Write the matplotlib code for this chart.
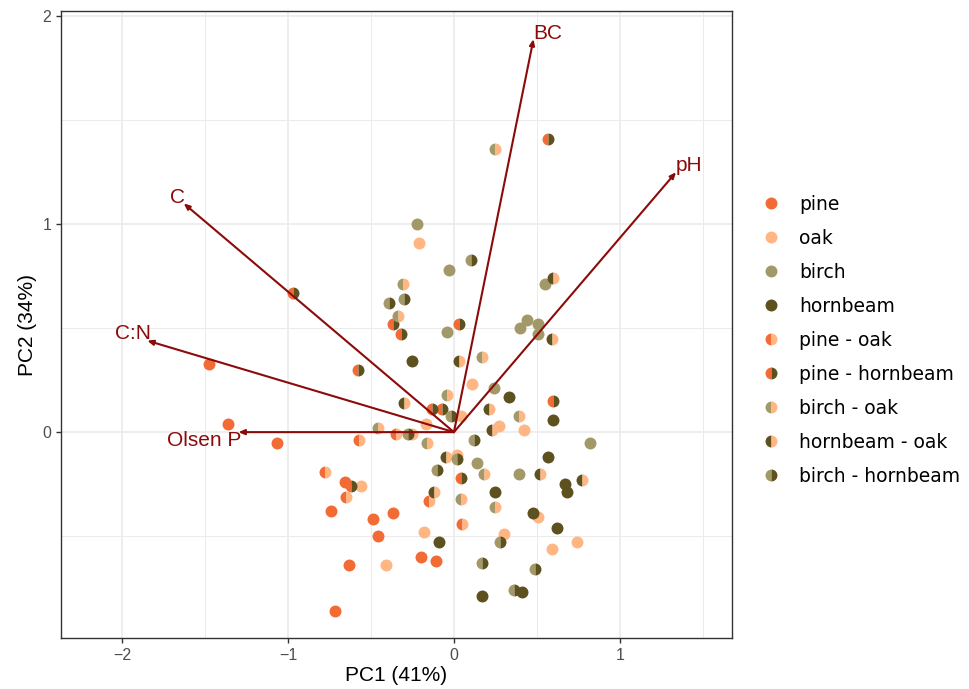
import matplotlib
matplotlib.use("Agg")
import matplotlib.pyplot as plt
from matplotlib.lines import Line2D

# species colours
pine_c = '#F26B35'
oak_c = '#FFB683'
birch_c = '#A39868'
hornbeam_c = '#5E5120'
arrow_c = '#8B0A0A'

# PCA scores per stand type (PC1, PC2)
pine_x = [-1.48, -1.36, -1.07, -0.66, -0.74, -0.49, -0.37, -0.46, -0.20, -0.11, -0.63, -0.72]
pine_y = [0.33, 0.04, -0.05, -0.24, -0.38, -0.42, -0.39, -0.50, -0.60, -0.62, -0.64, -0.86]

oak_x = [-0.21, 0.04, -0.17, -0.25, -0.56, -0.18, -0.41, 0.02, 0.11, 0.27, 0.42, 0.51, 0.30, 0.59, 0.74]
oak_y = [0.91, 0.08, 0.04, -0.01, -0.26, -0.48, -0.64, -0.11, 0.23, 0.03, 0.01, -0.41, -0.49, -0.56, -0.53]

birch_x = [-0.22, -0.03, 0.55, -0.04, 0.24, 0.82, 0.14, 0.39, 0.40, 0.44, 0.51, 0.51]
birch_y = [1.00, 0.78, 0.71, 0.48, 0.21, -0.05, -0.15, -0.20, 0.50, 0.54, 0.52, 0.47]

hornbeam_x = [-0.25, 0.33, 0.60, 0.57, 0.25, 0.67, 0.68, 0.48, 0.62, 0.41, 0.17, -0.09]
hornbeam_y = [0.34, 0.17, 0.06, -0.12, -0.29, -0.25, -0.29, -0.39, -0.46, -0.77, -0.79, -0.53]

pine_oak_x = [-0.35, -0.57, -0.65, -0.78, -0.15, 0.05]
pine_oak_y = [-0.01, -0.04, -0.31, -0.19, -0.33, -0.44]

pine_hornbeam_x = [0.57, -0.37, -0.32, 0.03, -0.58, -0.97, -0.13, -0.07, 0.60, 0.04, -0.62]
pine_hornbeam_y = [1.41, 0.52, 0.47, 0.52, 0.30, 0.67, 0.11, 0.11, 0.15, -0.22, -0.26]

birch_oak_x = [0.25, -0.31, -0.34, -0.04, -0.46, -0.16, 0.04, 0.17, 0.39, 0.18, 0.25]
birch_oak_y = [1.36, 0.71, 0.56, 0.18, 0.02, -0.05, -0.32, 0.36, 0.08, -0.20, -0.36]

hornbeam_oak_x = [0.60, 0.03, -0.30, -0.05, -0.12, 0.21, 0.23, 0.52, 0.77, 0.59]
hornbeam_oak_y = [0.74, 0.34, 0.14, -0.12, -0.29, 0.11, 0.01, -0.20, -0.23, 0.45]

birch_hornbeam_x = [0.10, -0.39, -0.30, -0.02, -0.28, 0.02, -0.10, 0.12, 0.28, 0.17, 0.49, 0.36]
birch_hornbeam_y = [0.83, 0.62, 0.64, 0.08, -0.01, -0.13, -0.18, -0.04, -0.53, -0.63, -0.66, -0.76]

# loadings
load_names = ['BC', 'pH', 'C', 'C:N', 'Olsen P']
load_x = [0.48, 1.34, -1.63, -1.85, -1.30]
load_y = [1.89, 1.25, 1.10, 0.44, 0.00]

groups = [
    ('pine', pine_x, pine_y, pine_c, pine_c),
    ('oak', oak_x, oak_y, oak_c, oak_c),
    ('birch', birch_x, birch_y, birch_c, birch_c),
    ('hornbeam', hornbeam_x, hornbeam_y, hornbeam_c, hornbeam_c),
    ('pine - oak', pine_oak_x, pine_oak_y, pine_c, oak_c),
    ('pine - hornbeam', pine_hornbeam_x, pine_hornbeam_y, pine_c, hornbeam_c),
    ('birch - oak', birch_oak_x, birch_oak_y, birch_c, oak_c),
    ('hornbeam - oak', hornbeam_oak_x, hornbeam_oak_y, hornbeam_c, oak_c),
    ('birch - hornbeam', birch_hornbeam_x, birch_hornbeam_y, birch_c, hornbeam_c),
]

fig = plt.figure(figsize=(9.69, 6.89), dpi=100)
ax = fig.add_axes([0.063, 0.074, 0.692, 0.910])

ax.set_xlim(-2.37, 1.675)
ax.set_ylim(-0.99, 2.025)
ax.set_xticks([-2, -1, 0, 1])
ax.set_yticks([0, 1, 2])
ax.set_xticks([-1.5, -0.5, 0.5, 1.5], minor=True)
ax.set_yticks([-0.5, 0.5, 1.5], minor=True)
ax.grid(which='major', color='#EBEBEB', lw=1.2)
ax.grid(which='minor', color='#EBEBEB', lw=0.7)
ax.set_axisbelow(True)
ax.tick_params(which='minor', length=0)
ax.tick_params(which='major', length=3.5, width=1, color='#333333',
               labelsize=11.5, labelcolor='#4D4D4D')
for lbl in ax.get_xticklabels() + ax.get_yticklabels():
    lbl.set_family('Liberation Sans')
for sp in ax.spines.values():
    sp.set_color('#333333')
    sp.set_linewidth(1.0)

handles = []
for name, xs, ys, c1, c2 in groups:
    fs = 'full' if c1 == c2 else 'left'
    ax.plot(xs, ys, ls='none', marker='o', ms=8.6, mew=0, fillstyle=fs,
            markerfacecolor=c1, markerfacecoloralt=c2, zorder=3)
    handles.append(Line2D([], [], ls='none', marker='o', ms=8.6, mew=0, fillstyle=fs,
                          markerfacecolor=c1, markerfacecoloralt=c2, label=name))

# arrows + labels
offsets = [(0, 4, 'left'), (0, 5, 'left'), (1, 4, 'right'), (3, 5, 'right'), (2, -6, 'right')]
for name, lx, ly, (dx, dy, ha) in zip(load_names, load_x, load_y, offsets):
    ax.annotate('', xy=(lx, ly), xytext=(0, 0),
                arrowprops=dict(arrowstyle='-|>,head_length=0.35,head_width=0.15',
                                color=arrow_c, lw=1.5, shrinkA=0, shrinkB=0),
                zorder=4)
    ax.annotate(name, xy=(lx, ly), xytext=(dx, dy), textcoords='offset points',
                ha=ha, va='center', color=arrow_c, fontsize=15,
                family='Liberation Sans', zorder=5)

ax.set_xlabel('PC1 (41%)', fontsize=15, family='Liberation Sans', labelpad=2)
ax.set_ylabel('PC2 (34%)', fontsize=15, family='Liberation Sans', labelpad=4)

fig.legend(handles=handles, loc='center left', bbox_to_anchor=(0.778, 0.506),
           frameon=False, fontsize=13.5, labelspacing=0.8, handlelength=1.0,
           handletextpad=1.0, borderaxespad=0)

fig.savefig('out.png', dpi=100)
